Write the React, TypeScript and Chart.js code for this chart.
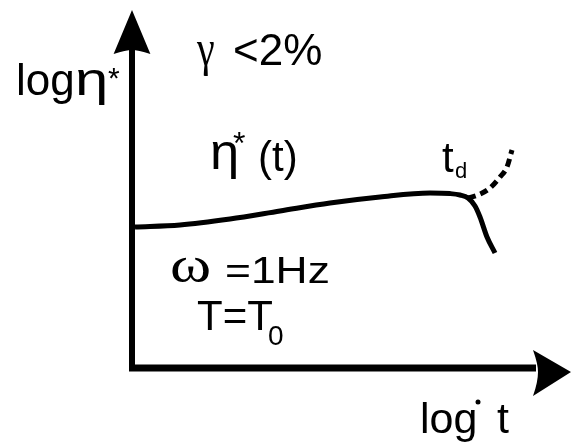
import React, { useEffect, useRef } from "react";
import { Chart, registerables } from "chart.js";

Chart.register(...registerables);

// schematic units: x = log t, y = log eta* (origin at the axes corner)
const curveX = [0.075, 1.2, 2.45, 3.7, 4.95, 6.2, 7.45, 7.95, 8.2, 8.4, 8.575, 8.7, 8.875, 9.075];
const curveY = [3.525, 3.575, 3.725, 3.925, 4.125, 4.275, 4.375, 4.36, 4.325, 4.25, 4.05, 3.775, 3.275, 2.875];
const dashX = [8.4, 8.65, 8.95, 9.2, 9.375, 9.5];
const dashY = [4.25, 4.325, 4.5, 4.775, 5.025, 5.45];

const labelTexts = ["log", "η", "*", "γ", "<2%", "η", "*", "(t)", "t", "d", "ω", "=1Hz", "T=T", "0", "log", "t"];

const SANS = '"Liberation Sans", Arial, sans-serif';
const SERIF = '"Liberation Serif", "Times New Roman", serif';

// placement of each label (data units), size in px, font, horizontal stretch
const labelLayout = [
  { x: -2.9, y: 6.825, size: 44, font: SANS, sx: 1 },
  { x: -1.425, y: 6.825, size: 46, font: SANS, sx: 1.3 },
  { x: -0.6, y: 7.0, size: 30, font: SANS, sx: 1 },
  { x: 1.625, y: 7.575, size: 50, font: SERIF, sx: 0.8 },
  { x: 2.525, y: 7.575, size: 44, font: SANS, sx: 1 },
  { x: 1.95, y: 4.975, size: 50, font: SANS, sx: 1.05 },
  { x: 2.525, y: 5.35, size: 32, font: SANS, sx: 1 },
  { x: 3.15, y: 4.925, size: 42, font: SANS, sx: 1 },
  { x: 7.75, y: 4.9, size: 42, font: SANS, sx: 1 },
  { x: 8.075, y: 4.75, size: 22, font: SANS, sx: 1 },
  { x: 0.95, y: 2.15, size: 50, font: SERIF, sx: 1.25 },
  { x: 2.325, y: 2.125, size: 37, font: SANS, sx: 1.2 },
  { x: 1.625, y: 0.95, size: 42, font: SANS, sx: 1 },
  { x: 3.4, y: 0.575, size: 28, font: SANS, sx: 1 },
  { x: 7.2, y: -1.625, size: 43, font: SANS, sx: 1 },
  { x: 9.125, y: -1.625, size: 43, font: SANS, sx: 1 },
];

const stray = { x: 8.65, y: -0.85 };

const schematicPlugin = {
  id: "schematic",
  beforeDatasetsDraw(chart: any) {
    const ctx = chart.ctx;
    const xs = chart.scales.x;
    const ys = chart.scales.y;
    const X = (v: number) => xs.getPixelForValue(v);
    const Y = (v: number) => ys.getPixelForValue(v);
    ctx.save();
    ctx.fillStyle = "#000";
    ctx.strokeStyle = "#000";
    ctx.lineCap = "butt";
    // vertical axis
    ctx.lineWidth = 6;
    ctx.beginPath();
    ctx.moveTo(X(0), Y(-0.075));
    ctx.lineTo(X(0), Y(7.95));
    ctx.stroke();
    // horizontal axis
    ctx.lineWidth = 7;
    ctx.beginPath();
    ctx.moveTo(X(-0.075), Y(0));
    ctx.lineTo(X(10.1), Y(0));
    ctx.stroke();
    // y arrowhead
    ctx.beginPath();
    ctx.moveTo(X(0), Y(8.95));
    ctx.lineTo(X(0.46), Y(7.85));
    ctx.quadraticCurveTo(X(0.15), Y(7.95), X(0), Y(7.95));
    ctx.quadraticCurveTo(X(-0.15), Y(7.95), X(-0.46), Y(7.85));
    ctx.closePath();
    ctx.fill();
    // x arrowhead
    ctx.beginPath();
    ctx.moveTo(X(10.975), Y(-0.1));
    ctx.lineTo(X(10.025), Y(0.45));
    ctx.quadraticCurveTo(X(10.15), Y(0.1), X(10.15), Y(-0.1));
    ctx.quadraticCurveTo(X(10.15), Y(-0.35), X(10.025), Y(-0.7));
    ctx.closePath();
    ctx.fill();
    // labels
    ctx.textBaseline = "alphabetic";
    ctx.textAlign = "left";
    labelTexts.forEach((t, i) => {
      const l = labelLayout[i];
      ctx.save();
      ctx.translate(X(l.x), Y(l.y));
      ctx.scale(l.sx, 1);
      ctx.font = `${l.size}px ${l.font}`;
      ctx.fillText(t, 0, 0);
      ctx.restore();
    });
    ctx.beginPath();
    ctx.arc(X(stray.x), Y(stray.y), 2.5, 0, Math.PI * 2);
    ctx.fill();
    ctx.restore();
  },
};

export default function App() {
  const ref = useRef<HTMLCanvasElement | null>(null);
  useEffect(() => {
    if (!ref.current) return;
    const chart = new Chart(ref.current, {
      type: "line",
      data: {
        datasets: [
          {
            data: curveX.map((x, i) => ({ x, y: curveY[i] })),
            borderColor: "#000",
            borderWidth: 5,
            pointRadius: 0,
            cubicInterpolationMode: "monotone",
            fill: false,
          },
          {
            data: dashX.map((x, i) => ({ x, y: dashY[i] })),
            borderColor: "#000",
            borderWidth: 5,
            borderDash: [8, 5],
            pointRadius: 0,
            cubicInterpolationMode: "monotone",
            fill: false,
          },
        ],
      },
      options: {
        animation: false,
        responsive: false,
        devicePixelRatio: 1,
        layout: { padding: 0 },
        plugins: { legend: { display: false }, tooltip: { enabled: false } },
        scales: {
          x: { type: "linear", min: -3.3, max: 10.975, display: false },
          y: { type: "linear", min: -1.95, max: 9.2, display: false },
        },
      },
      plugins: [schematicPlugin],
    } as any);
    return () => chart.destroy();
  }, []);
  return (
    <div style={{ position: "absolute", left: 0, top: 0, width: 571, height: 446, background: "#fff" }}>
      <canvas ref={ref} width={571} height={446} />
    </div>
  );
}
